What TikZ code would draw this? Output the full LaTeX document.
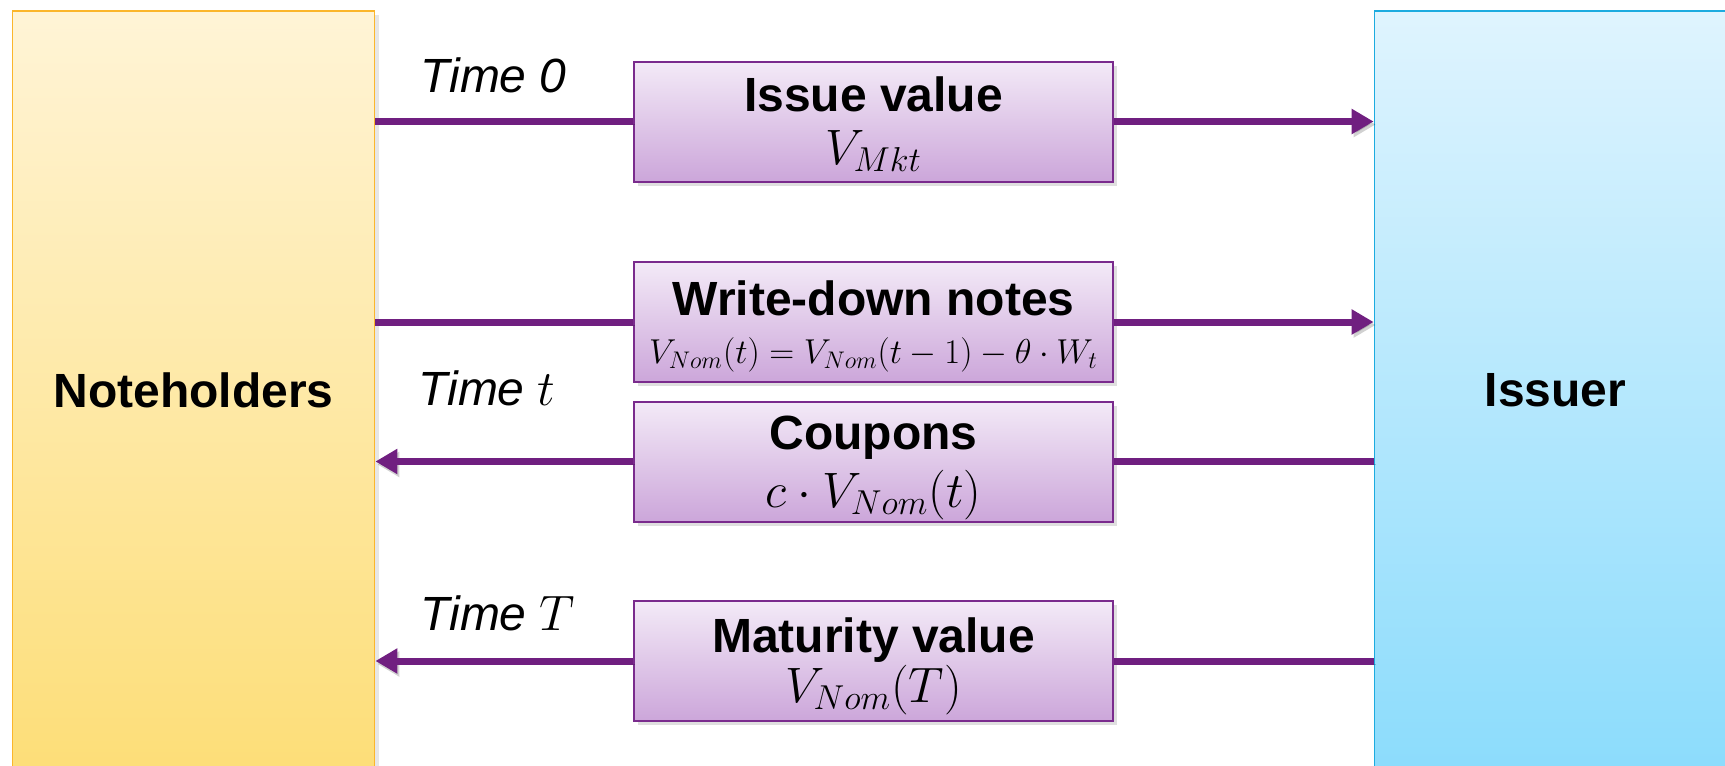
\documentclass[tikz,border=0pt]{standalone}
\usepackage[no-math]{fontspec}
\setmainfont{Liberation Sans}
\usepackage{amsmath}
\usepackage{tikz}
\usetikzlibrary{calc, positioning, arrows.meta, shadows}

\DeclareMathSizes{23}{23}{18.5}{14.5}
\DeclareMathSizes{16}{16}{13}{10}

\definecolor{holderTop}{HTML}{FFF4D6}
\definecolor{holderBottom}{HTML}{FDDE78}
\definecolor{holderLine}{HTML}{FBB62B}
\definecolor{issuerTop}{HTML}{DFF4FE}
\definecolor{issuerBottom}{HTML}{8CDCFC}
\definecolor{issuerLine}{HTML}{1CABDF}
\definecolor{boxTop}{HTML}{F3EAF7}
\definecolor{boxBottom}{HTML}{CCA6DA}
\definecolor{boxLine}{HTML}{7A2B8D}
\definecolor{flowPurple}{HTML}{701F80}

\begin{document}
\begin{tikzpicture}[x=0.5pt, y=-0.5pt]
\tikzstyle{party_box}=[rectangle, line width=0.9pt, minimum width=181pt,
	minimum height=379pt, font=\fontsize{24}{28}\selectfont\bfseries,
	drop shadow={shadow xshift=2pt, shadow yshift=-2pt, opacity=0.2}]
\tikzstyle{flow_box}=[rectangle, draw=boxLine, line width=1pt,
	top color=boxTop, bottom color=boxBottom,
	minimum width=239.5pt, minimum height=60pt,
	drop shadow={shadow xshift=2pt, shadow yshift=-2pt, opacity=0.25}]
\tikzstyle{flow_title}=[anchor=base, inner sep=0pt, font=\fontsize{24}{28}\selectfont\bfseries]
\tikzstyle{flow_value}=[anchor=base, inner sep=0pt, font=\fontsize{23}{27}\selectfont]
\tikzstyle{flow_line}=[draw=flowPurple, line width=3.5pt,
	preaction={draw=black, opacity=0.18, transform canvas={xshift=1pt, yshift=-1.5pt}}]
\tikzstyle{flow_tip}=[-{Triangle[length=11pt, width=12pt]}]
\tikzstyle{time_label}=[anchor=base west, inner sep=0pt, font=\fontsize{24}{28}\selectfont\itshape]

\useasboundingbox (0,0) rectangle (1725,766);
\clip (0,0) rectangle (1725,766);

% the two parties
\node[party_box, draw=holderLine, top color=holderTop, bottom color=holderBottom]
	(holders) at (193.5,390) {Noteholders};
\node[party_box, draw=issuerLine, top color=issuerTop, bottom color=issuerBottom]
	(issuer) at (1555.5,390) {Issuer};

% cash flows
\node[flow_box] (issue) at (873.5,121.5) {};
\node[flow_title] (issue_t) at ([yshift=5pt]issue.center) {Issue value};
\node[flow_value] (issue_v) at ([yshift=-21.5pt]issue.center) {$V_{Mkt}$};

\node[flow_box] (writedown) at (873.5,322) {};
\node[flow_title] (writedown_t) at ([yshift=3.5pt]writedown.center) {Write-down notes};
\node[flow_value, font=\fontsize{16}{19}\selectfont] (writedown_v)
	at ([yshift=-20.5pt]writedown.center) {$V_{Nom}(t)=V_{Nom}(t-1)-\theta\cdot W_t$};

\node[flow_box] (coupons) at (873.5,461.5) {};
\node[flow_title] (coupons_t) at ([yshift=6pt]coupons.center) {Coupons};
\node[flow_value] (coupons_v) at ([yshift=-23pt]coupons.center) {$c\cdot V_{Nom}(t)$};

\node[flow_box] (maturity) at (873.5,661) {};
\node[flow_title] (maturity_t) at ([yshift=4.5pt]maturity.center) {Maturity value};
\node[flow_value] (maturity_v) at ([yshift=-20.5pt]maturity.center) {$V_{Nom}(T)$};

% times
\node[time_label] (time0) at (420,92) {Time 0};
\node[time_label] (timet) at (418,405) {Time \upshape$t$};
\node[time_label] (timeT) at (420,630) {Time \upshape$T$};

\draw[flow_line] (holders.east |- issue.west) -- (issue.west);
\draw[flow_line, flow_tip] (issue.east) -- (issuer.west |- issue.east);
\draw[flow_line] (holders.east |- writedown.west) -- (writedown.west);
\draw[flow_line, flow_tip] (writedown.east) -- (issuer.west |- writedown.east);
\draw[flow_line] (issuer.west |- coupons.east) -- (coupons.east);
\draw[flow_line, flow_tip] (coupons.west) -- (holders.east |- coupons.west);
\draw[flow_line] (issuer.west |- maturity.east) -- (maturity.east);
\draw[flow_line, flow_tip] (maturity.west) -- (holders.east |- maturity.west);

\end{tikzpicture}
\end{document}
